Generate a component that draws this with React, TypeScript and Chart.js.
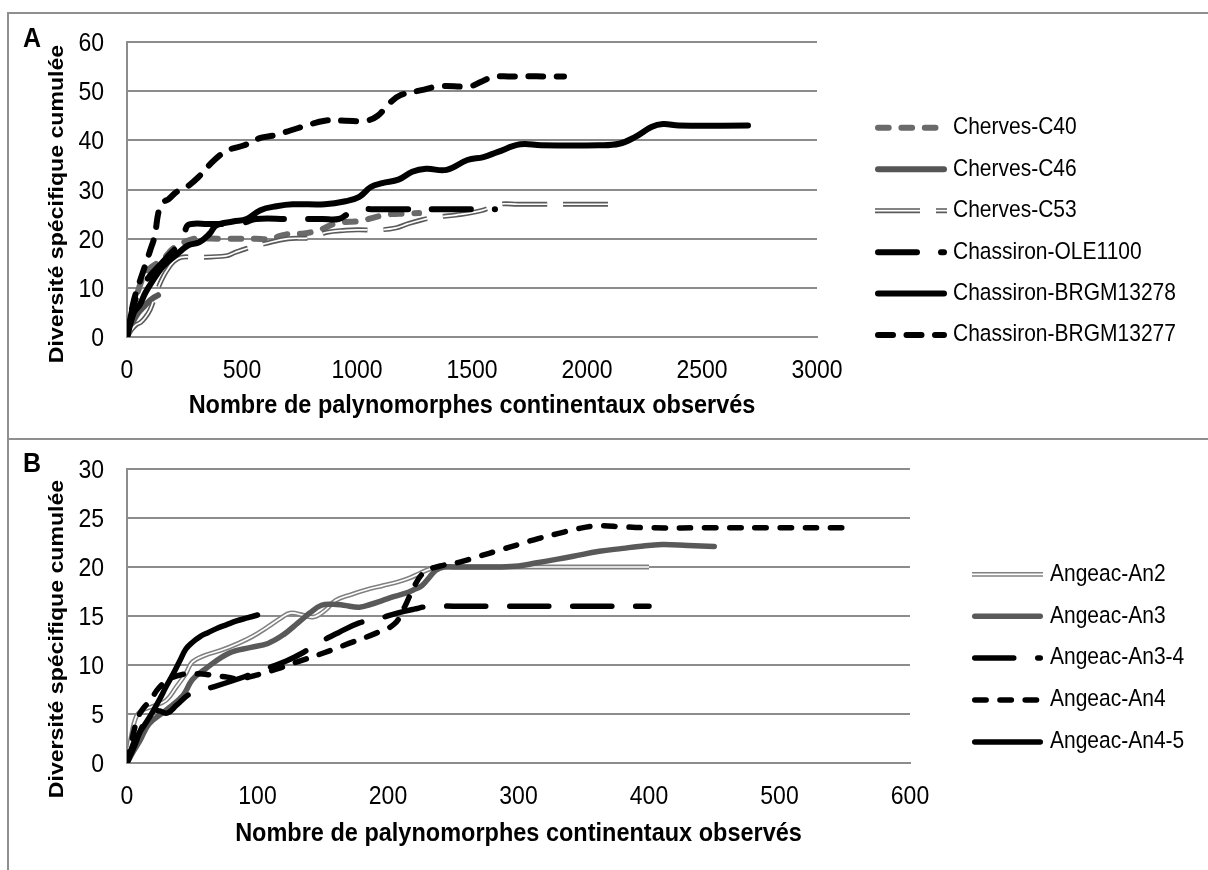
import React, { useEffect, useRef } from 'react';
import { Chart, registerables } from 'chart.js';

Chart.register(...registerables);

const FONT = '"Liberation Sans", Arial, Helvetica, sans-serif';

// ---------------- Shared texts ----------------
const yAxisTitle = 'Diversité spécifique cumulée';
const xAxisTitle = 'Nombre de palynomorphes continentaux observés';

// ---------------- Panel A data ----------------
const xTicksA = [0, 500, 1000, 1500, 2000, 2500, 3000];
const yTicksA = [0, 10, 20, 30, 40, 50, 60];
const namesA = ['Cherves-C40', 'Cherves-C46', 'Cherves-C53', 'Chassiron-OLE1100', 'Chassiron-BRGM13278', 'Chassiron-BRGM13277'];

const c40X = [0, 20, 40, 60, 80, 100, 130, 160, 200, 230, 260, 300, 400, 500, 560, 620, 670, 710, 760, 800, 850, 900, 950, 1000, 1050, 1100, 1150, 1200, 1270];
const c40Y = [0, 4, 8, 11, 13, 14, 15, 16, 18, 18.8, 19.5, 20, 20, 20, 20, 19.9, 20.6, 21, 21, 21.3, 22, 23, 23.4, 23.5, 24, 24.6, 25, 25.1, 25.2];

const c46X = [0, 15, 30, 50, 70, 90, 110, 135];
const c46Y = [0, 2, 3.5, 5, 6, 7, 7.8, 8.5];

const c53X = [0, 20, 40, 60, 80, 100, 120, 140, 160, 180, 200, 235, 300, 430, 470, 520, 600, 700, 800, 870, 950, 1000, 1100, 1170, 1220, 1280, 1345, 1430, 1540, 1620, 1700, 1770, 1900, 2000, 2100];
const c53Y = [0, 1.5, 2.5, 3, 4, 5.5, 8, 10.5, 12.5, 14, 15.2, 16.2, 16.2, 16.5, 17.2, 18, 19, 20, 20.2, 21.3, 21.7, 21.8, 21.8, 22.2, 23, 23.8, 24.4, 24.8, 25.7, 27, 27, 27, 27, 27, 27];

const oleX = [0, 20, 40, 70, 100, 130, 160, 190, 220, 245, 260, 280, 350, 450, 510, 560, 700, 850, 920, 960, 1010, 1060, 1200, 1400, 1600];
const oleY = [0, 5, 8, 10.5, 12.5, 14, 15.5, 17, 18.5, 20, 22.5, 23, 23, 23, 23.3, 24, 24, 24, 24, 25, 26, 26, 26, 26, 26];

const b278X = [0, 30, 55, 80, 113, 150, 185, 229, 265, 315, 359, 388, 461, 520, 580, 650, 720, 860, 950, 1010, 1060, 1110, 1180, 1240, 1300, 1390, 1480, 1550, 1610, 1710, 1800, 2050, 2140, 2210, 2280, 2330, 2400, 2700];
const b278Y = [0, 5, 6.5, 9, 11.5, 14, 15.6, 17.3, 18.6, 19.3, 21, 22.7, 23.5, 24, 25.8, 26.6, 27, 27, 27.6, 28.5, 30.5, 31.3, 32, 33.6, 34.2, 34, 36, 36.6, 37.6, 39.2, 39, 39, 39.3, 40.7, 42.7, 43.3, 43, 43];

const b277X = [0, 15, 30, 50, 75, 100, 120, 140, 160, 180, 215, 250, 310, 380, 440, 510, 580, 640, 710, 780, 860, 950, 1040, 1090, 1140, 1190, 1280, 1360, 1490, 1540, 1590, 1660, 1900];
const b277Y = [0, 4, 7.5, 10.5, 14, 17.5, 20.5, 26, 27.5, 28, 29.5, 30.2, 32.5, 36, 38, 39, 40.5, 41, 42, 43, 44, 44, 44, 45, 47.5, 49.2, 50.2, 51, 51, 51.9, 52.9, 53, 53];

// ---------------- Panel B data ----------------
const xTicksB = [0, 100, 200, 300, 400, 500, 600];
const yTicksB = [0, 5, 10, 15, 20, 25, 30];
const namesB = ['Angeac-An2', 'Angeac-An3', 'Angeac-An3-4', 'Angeac-An4', 'Angeac-An4-5'];

const an2X = [0, 3, 7, 12, 20, 30, 38, 45, 50, 60, 72, 85, 96, 108, 118, 125, 135, 143, 152, 160, 172, 184, 196, 208, 217, 225, 232, 237, 245, 260, 300, 350, 400];
const an2Y = [0, 2.5, 4.7, 5.4, 5.8, 6.4, 7.8, 9.1, 10.3, 11, 11.5, 12.2, 12.9, 13.9, 14.8, 15.3, 15.1, 14.9, 15.6, 16.6, 17.2, 17.7, 18.1, 18.5, 18.9, 19.4, 19.8, 20, 20, 20, 20, 20, 20];

const an3X = [0, 5, 10, 17, 30, 43, 50, 60, 78, 95, 108, 120, 131, 140, 149, 158, 166, 178, 187, 196, 205, 213, 220, 226, 232, 237, 243, 250, 265, 284, 300, 313, 330, 342, 362, 380, 392, 410, 430, 450];
const an3Y = [0, 1.2, 2.3, 4, 5.4, 6.9, 8.5, 9.6, 11.2, 11.8, 12.2, 13.1, 14.3, 15.3, 16.1, 16.2, 16.1, 15.9, 16.2, 16.6, 17, 17.3, 17.7, 18.1, 19, 19.7, 20, 20, 20, 20, 20.1, 20.4, 20.8, 21.1, 21.6, 21.9, 22.1, 22.3, 22.2, 22.1];

const an34X = [0, 5, 10, 15, 20, 25, 31, 38, 49, 67, 90, 108, 122, 134, 146, 162, 178, 192, 207, 220, 232, 250, 300, 350, 400];
const an34Y = [0, 1.5, 3.2, 4.6, 5.4, 5.3, 5.1, 5.9, 7.1, 7.8, 8.8, 9.7, 10.4, 11.2, 12.2, 13.3, 14.3, 14.7, 15.3, 15.7, 16, 16, 16, 16, 16];

const an4X = [0, 4, 8, 12, 18, 24, 33, 45, 55, 63, 75, 86, 100, 115, 130, 150, 170, 190, 205, 213, 220, 228, 240, 255, 270, 285, 300, 315, 330, 345, 360, 380, 400, 450, 500, 550];
const an4Y = [0, 2.5, 4.5, 5.5, 6.4, 7.6, 8.6, 9.1, 9.1, 9, 8.8, 8.6, 9, 9.6, 10.3, 11.2, 12.2, 13.2, 14.2, 16, 18, 19.5, 20.1, 20.5, 21.1, 21.7, 22.3, 22.9, 23.4, 23.9, 24.2, 24.1, 24, 24, 24, 24];

const an45X = [0, 5, 10, 15, 20, 25, 30, 35, 40, 45, 50, 56, 62, 70, 76, 84, 92, 100];
const an45Y = [0, 2, 3.2, 4.2, 5.3, 6.5, 7.8, 9, 10.3, 11.6, 12.3, 12.9, 13.3, 13.8, 14.1, 14.5, 14.8, 15.1];

// ---------------- Styles ----------------
type LineStyle = {
  color: string;
  width: number;
  dash: number[];
  cap: CanvasLineCap;
  inner?: { color: string; width: number };
};

const GRID = '#8c8c8c';
const TEXT_STRETCH = 1.1; // the reference text is slightly taller than wide

const STYLES: Record<string, LineStyle> = {
  greyDash: { color: '#6a6a6a', width: 6, dash: [10.7, 12.7], cap: 'round' },
  greySolid: { color: '#555555', width: 6, dash: [], cap: 'round' },
  doubleDashDot: { color: '#5a5a5a', width: 5, dash: [45, 16], cap: 'butt', inner: { color: '#ffffff', width: 1.7 } },
  blackLongDash: { color: '#000000', width: 6, dash: [39, 24], cap: 'round' },
  blackSolid: { color: '#000000', width: 6, dash: [], cap: 'round' },
  blackDash: { color: '#000000', width: 6, dash: [15, 13.5], cap: 'round' },
  doubleGrey: { color: '#808080', width: 4.8, dash: [], cap: 'butt', inner: { color: '#ffffff', width: 1.7 } },
  greySolidB: { color: '#595959', width: 5.5, dash: [], cap: 'round' },
  blackLongDashB: { color: '#000000', width: 5.5, dash: [39, 24], cap: 'round' },
  blackDashB: { color: '#000000', width: 5.5, dash: [11.4, 13.8], cap: 'round' },
  blackSolidB: { color: '#000000', width: 5.5, dash: [], cap: 'round' },
};

type Series = { name: string; x: number[]; y: number[]; style: LineStyle };

const seriesA: Series[] = [
  { name: namesA[0], x: c40X, y: c40Y, style: STYLES.greyDash },
  { name: namesA[1], x: c46X, y: c46Y, style: STYLES.greySolid },
  { name: namesA[2], x: c53X, y: c53Y, style: STYLES.doubleDashDot },
  { name: namesA[3], x: oleX, y: oleY, style: STYLES.blackLongDash },
  { name: namesA[4], x: b278X, y: b278Y, style: STYLES.blackSolid },
  { name: namesA[5], x: b277X, y: b277Y, style: STYLES.blackDash },
];

const seriesB: Series[] = [
  { name: namesB[0], x: an2X, y: an2Y, style: STYLES.doubleGrey },
  { name: namesB[1], x: an3X, y: an3Y, style: STYLES.greySolidB },
  { name: namesB[2], x: an34X, y: an34Y, style: STYLES.blackLongDashB },
  { name: namesB[3], x: an4X, y: an4Y, style: STYLES.blackDashB },
  { name: namesB[4], x: an45X, y: an45Y, style: STYLES.blackSolidB },
];

// ---------------- Layout (page pixels) ----------------
type Panel = {
  letter: string;
  letterX: number;
  letterBaseline: number;
  series: Series[];
  xTicks: number[];
  yTicks: number[];
  area: { left: number; right: number; top: number; bottom: number };
  yTitleCenter: { x: number; y: number };
  xTitle: { x: number; baseline: number };
  legend: { x0: number; x1: number; textX: number; y0: number; gap: number };
};

const CANVAS_W = 1208;
const CANVAS_H = 870;
const Y_AXIS_W = 60;
const X_AXIS_H = 50;

const panelA: Panel = {
  letter: 'A',
  letterX: 23,
  letterBaseline: 47,
  series: seriesA,
  xTicks: xTicksA,
  yTicks: yTicksA,
  area: { left: 127, right: 817, top: 42, bottom: 337 },
  yTitleCenter: { x: 57.5, y: 204 },
  xTitle: { x: 472, baseline: 413 },
  legend: { x0: 875, x1: 947, textX: 953, y0: 127.8, gap: 41.45 },
};

const panelB: Panel = {
  letter: 'B',
  letterX: 23,
  letterBaseline: 472,
  series: seriesB,
  xTicks: xTicksB,
  yTicks: yTicksB,
  area: { left: 127, right: 910, top: 469, bottom: 763 },
  yTitleCenter: { x: 57.5, y: 639 },
  xTitle: { x: 518.5, baseline: 841 },
  legend: { x0: 972, x1: 1043, textX: 1050, y0: 574.3, gap: 41.9 },
};

function drawText(
  ctx: CanvasRenderingContext2D,
  text: string,
  x: number,
  y: number,
  font: string,
  align: CanvasTextAlign,
  baseline: CanvasTextBaseline,
  rotate = 0,
) {
  ctx.save();
  ctx.translate(x, y);
  if (rotate) ctx.rotate(rotate);
  if (rotate) ctx.scale(TEXT_STRETCH, 1);
  else ctx.scale(1, TEXT_STRETCH);
  ctx.font = font;
  ctx.textAlign = align;
  ctx.textBaseline = baseline;
  ctx.fillStyle = '#000';
  ctx.fillText(text, 0, 0);
  ctx.restore();
}

function drawSample(ctx: CanvasRenderingContext2D, st: LineStyle, x0: number, x1: number, y: number) {
  ctx.save();
  const inset = st.cap === 'round' ? st.width / 2 : 0;
  ctx.lineCap = st.cap;
  ctx.setLineDash(st.dash);
  ctx.strokeStyle = st.color;
  ctx.lineWidth = st.width;
  ctx.beginPath();
  ctx.moveTo(x0 + inset, y);
  ctx.lineTo(x1 - inset, y);
  ctx.stroke();
  if (st.inner) {
    ctx.strokeStyle = st.inner.color;
    ctx.lineWidth = st.inner.width;
    ctx.beginPath();
    ctx.moveTo(x0 + inset, y);
    ctx.lineTo(x1 - inset, y);
    ctx.stroke();
  }
  ctx.restore();
}

function decorPlugin(p: Panel) {
  return {
    id: 'decor' + p.letter,
    afterDraw(chart: any) {
      const ctx: CanvasRenderingContext2D = chart.ctx;
      const xs = chart.scales.x;
      const ys = chart.scales.y;
      const area = chart.chartArea;
      const tickFont = `23px ${FONT}`;
      // tick labels, placed through the chart's own scales
      p.xTicks.forEach((v) => {
        drawText(ctx, String(v), xs.getPixelForValue(v), area.bottom + 40.5, tickFont, 'center', 'alphabetic');
      });
      p.yTicks.forEach((v) => {
        drawText(ctx, String(v), area.left - 23, ys.getPixelForValue(v) + 9, tickFont, 'right', 'alphabetic');
      });
      // panel letter
      drawText(ctx, p.letter, p.letterX, p.letterBaseline, `bold 25px ${FONT}`, 'left', 'alphabetic');
      // y title
      drawText(ctx, yAxisTitle, p.yTitleCenter.x, p.yTitleCenter.y, `bold 21px ${FONT}`, 'center', 'middle', -Math.PI / 2);
      // x title
      drawText(ctx, xAxisTitle, p.xTitle.x, p.xTitle.baseline, `bold 23.5px ${FONT}`, 'center', 'alphabetic');
      // legend
      p.series.forEach((s, i) => {
        const y = p.legend.y0 + i * p.legend.gap;
        drawSample(ctx, s.style, p.legend.x0, p.legend.x1, y);
        drawText(ctx, s.name, p.legend.textX, y, `21px ${FONT}`, 'left', 'middle');
      });
    },
  };
}

function buildConfig(p: Panel): any {
  const datasets: any[] = [];
  const n = p.series.length;
  p.series.forEach((s, i) => {
    const data = s.x.map((x, k) => ({ x, y: s.y[k] }));
    const order = (n - i) * 2;
    const common = {
      data,
      borderJoinStyle: 'round',
      borderCapStyle: s.style.cap,
      borderDash: s.style.dash,
      pointRadius: 0,
      pointHoverRadius: 0,
      tension: 0.4,
      fill: false,
    };
    datasets.push({ ...common, label: s.name, borderColor: s.style.color, borderWidth: s.style.width, order });
    if (s.style.inner) {
      datasets.push({ ...common, label: s.name, borderColor: s.style.inner.color, borderWidth: s.style.inner.width, order: order - 1 });
    }
  });

  const xT = p.xTicks;
  const yT = p.yTicks;

  return {
    type: 'line',
    data: { datasets },
    options: {
      responsive: false,
      devicePixelRatio: 1,
      animation: false,
      events: [],
      layout: {
        padding: {
          left: p.area.left - Y_AXIS_W,
          right: CANVAS_W - p.area.right,
          top: p.area.top,
          bottom: CANVAS_H - p.area.bottom - X_AXIS_H,
        },
      },
      plugins: { legend: { display: false }, tooltip: { enabled: false }, title: { display: false } },
      scales: {
        x: {
          type: 'linear',
          min: xT[0],
          max: xT[xT.length - 1],
          afterBuildTicks: (sc: any) => {
            sc.ticks = xT.map((v) => ({ value: v }));
          },
          afterFit: (sc: any) => {
            sc.height = X_AXIS_H;
          },
          grid: { display: false, drawTicks: false },
          border: { display: true, color: GRID, width: 2 },
          ticks: { display: false },
        },
        y: {
          type: 'linear',
          min: yT[0],
          max: yT[yT.length - 1],
          afterBuildTicks: (sc: any) => {
            sc.ticks = yT.map((v) => ({ value: v }));
          },
          afterFit: (sc: any) => {
            sc.width = Y_AXIS_W;
          },
          grid: { color: GRID, lineWidth: 2, drawTicks: false },
          border: { display: true, color: GRID, width: 2 },
          ticks: { display: false },
        },
      },
    },
    plugins: [decorPlugin(p)],
  };
}

function PanelChart({ panel }: { panel: Panel }) {
  const ref = useRef<HTMLCanvasElement | null>(null);
  useEffect(() => {
    if (!ref.current) return;
    const chart = new Chart(ref.current, buildConfig(panel));
    return () => chart.destroy();
  }, [panel]);
  return (
    <canvas
      ref={ref}
      width={CANVAS_W}
      height={CANVAS_H}
      style={{ position: 'absolute', left: 0, top: 0, width: CANVAS_W, height: CANVAS_H }}
    />
  );
}

const BORDER = '#8f8f8f';

export default function App() {
  return (
    <div style={{ position: 'absolute', left: 0, top: 0, width: CANVAS_W, height: CANVAS_H, overflow: 'hidden', background: '#fff' }}>
      <div style={{ position: 'absolute', left: 7, top: 12, width: 1201, height: 2, background: BORDER }} />
      <div style={{ position: 'absolute', left: 7, top: 438, width: 1201, height: 2, background: BORDER }} />
      <div style={{ position: 'absolute', left: 7, top: 12, width: 2, height: 858, background: BORDER }} />
      <PanelChart panel={panelA} />
      <PanelChart panel={panelB} />
    </div>
  );
}
